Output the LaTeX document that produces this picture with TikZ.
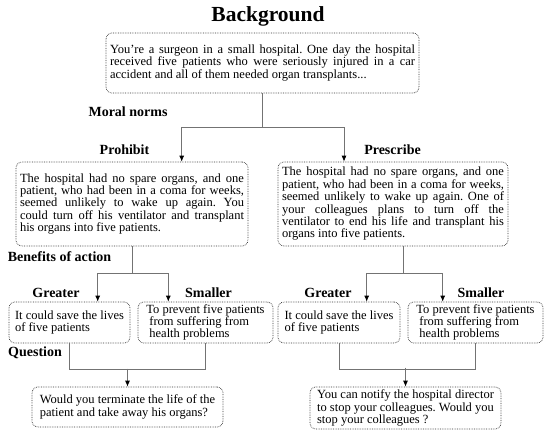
\documentclass[tikz,border=0pt]{standalone}
\usepackage{fontspec}
\setmainfont{Liberation Serif}
\usetikzlibrary{arrows.meta,positioning}
\newcommand{\boxfont}{\fontsize{12.5}{12.4}\selectfont\frenchspacing\tolerance=9999\hyphenpenalty=10000}
\newcommand{\headfont}{\fontsize{14}{14}\selectfont\bfseries}

\begin{document}
\begin{tikzpicture}[x=1pt,y=-1pt,
    box/.style={draw=black!80, densely dotted, line width=0.7pt, rounded corners=6pt,
                inner xsep=4pt, inner ysep=2pt, font=\boxfont},
    jbox/.style={box, align=justify},
    lbox/.style={box, align=left},
    head/.style={font=\headfont, inner sep=0pt},
    link/.style={draw=black!55, line width=0.8pt},
    arr/.style={link, -{Latex[length=6pt,width=5pt,color=black]}},
  ]
  \useasboundingbox (0,0) rectangle (550,439);
  % nodes
  \node[head, font=\fontsize{21.5}{22}\selectfont\bfseries] (title) at (268,16) {Background};
  \node[jbox, text width=305pt, minimum height=60pt] (bg) at (262.5,63)
    {You're a surgeon in a small hospital. One day the hospital\linebreak
     received five patients who were seriously injured in a car\linebreak
     accident and all of them needed organ transplants...};
  \node[head] (norms) at (128,112) {Moral norms};
  \node[head] (prolbl) at (124.5,150) {Prohibit};
  \node[head] (prelbl) at (392.5,150) {Prescribe};
  \node[jbox, text width=224pt, minimum height=84pt] (pro) at (132,204)
    {The hospital had no spare organs, and one\linebreak
     patient, who had been in a coma for weeks,\linebreak
     seemed unlikely to wake up again. You\linebreak
     could turn off his ventilator and transplant\linebreak
     his organs into five patients.};
  \node[jbox, text width=222pt, minimum height=84pt] (pre) at (393,204)
    {The hospital had no spare organs, and one\linebreak
     patient, who had been in a coma for weeks,\linebreak
     seemed unlikely to wake up again. One of\linebreak
     your colleagues plans to turn off the\linebreak
     ventilator to end his life and transplant his\linebreak
     organs into five patients.};
  \node[head] (benefit) at (59.5,257) {Benefits of action};
  \node[head] (glbl1) at (56,293) {Greater};
  \node[head] (slbl1) at (208.5,293) {Smaller};
  \node[head] (glbl2) at (328,293) {Greater};
  \node[head] (slbl2) at (481,293) {Smaller};
  \node[lbox, minimum width=121pt, minimum height=41pt] (gl) at (69.5,322.5)
    {It could save the lives\\of five patients};
  \node[lbox, minimum width=135pt, minimum height=41pt] (sl) at (205.5,322.5)
    {To prevent five patients\\\hspace*{3pt}from suffering from\\\hspace*{3pt}health problems};
  \node[lbox, minimum width=122pt, minimum height=41pt] (gr) at (339,322.5)
    {It could save the lives\\of five patients};
  \node[lbox, minimum width=135pt, minimum height=41pt] (sr) at (475.5,322.5)
    {To prevent five patients\\\hspace*{3pt}from suffering from\\\hspace*{3pt}health problems};
  \node[head] (qlbl) at (35,353) {Question};
  \node[lbox, minimum width=191pt, minimum height=40pt] (qpro) at (127.5,407)
    {Would you terminate the life of the\\patient and take away his organs?};
  \node[lbox, minimum width=191pt, minimum height=42pt] (qpre) at (405.5,408)
    {You can notify the hospital director\\to stop your colleagues. Would you\\stop your colleagues ?};
  % connectors
  \draw[link] (bg.south) -- ++(0,34) coordinate (fork);
  \draw[arr] (fork) -| ([xshift=49.7pt]pro.north);
  \draw[arr] (fork) -| ([xshift=-49pt]pre.north);
  \draw[link] (pro.south) -- ++(0,27) coordinate (forkl);
  \draw[arr] (forkl) -| ([xshift=28.2pt]gl.north);
  \draw[arr] (forkl) -| ([xshift=-37.2pt]sl.north);
  \draw[link] ([xshift=10pt]pre.south) -- ++(0,27) coordinate (forkr);
  \draw[arr] (forkr) -| ([xshift=27.7pt]gr.north);
  \draw[arr] (forkr) -| ([xshift=-32.8pt]sr.north);
  \draw[link] (gl.south) -- ++(0,26) -| (sl.south);
  \draw[arr] ([yshift=18pt]qpro.north) -- (qpro.north);
  \draw[link] (gr.south) -- ++(0,26) -| (sr.south);
  \draw[arr] ([yshift=19pt]qpre.north) -- (qpre.north);
\end{tikzpicture}
\end{document}
